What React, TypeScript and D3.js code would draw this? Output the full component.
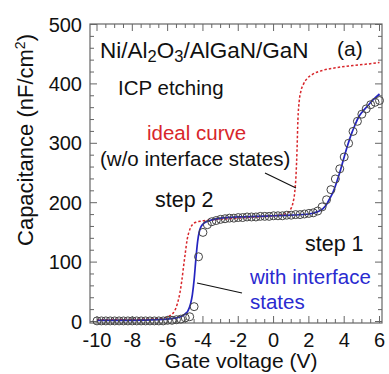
import React from "react";
import * as d3 from "d3";

// Measured C–V points (gate voltage sweep, 0.25 V step from -10 V to 6 V)
const measV: number[] = d3.range(65).map((i) => -10 + i * 0.25);
const measC: number[] = [
  // -10 … -5.25
  1, 1, 1, 1, 1, 1, 1, 1, 1, 1,
  1, 1, 1, 1, 1, 1, 2, 2, 3, 4,
  // -5.0 … -4.0
  6, 8, 25, 109, 150,
  // -3.75 … -0.25
  163, 168, 170, 172, 173, 174, 174, 175, 175, 176, 176, 176, 177, 177, 177,
  // 0 … 2.25
  178, 178, 178, 179, 179, 180, 180, 181, 182, 183,
  // 2.5 … 6.0
  186, 193, 205, 222, 240, 257, 277, 300, 320, 337, 349, 358, 365, 369, 372,
];

// Simulated curve with interface states
const fitV: number[] = [-10, -8, -6.5, -6, -5.5, -5.2, -5.0, -4.85, -4.7, -4.6, -4.5, -4.4, -4.3, -4.2, -4.1, -4.0, -3.8, -3.5, -3, -2, -1, 0, 1, 2, 2.5, 2.8, 3.0, 3.2, 3.4, 3.6, 3.8, 4.0, 4.2, 4.4, 4.6, 4.8, 5.0, 5.3, 5.6, 6.0];
const fitC: number[] = [2, 2, 3, 4, 6, 9, 13, 18, 30, 45, 70, 105, 135, 152, 160, 164, 168, 171, 174, 176, 177, 178, 179, 181, 185, 190, 197, 208, 220, 237, 256, 277, 297, 315, 330, 343, 352, 362, 372, 383];

// Ideal curve without interface states
const idealV: number[] = [-10, -7, -6.5, -6.2, -6, -5.8, -5.6, -5.45, -5.3, -5.2, -5.1, -5.0, -4.9, -4.8, -4.7, -4.6, -4.4, -4.1, -3.5, -2, -1, 0, 0.5, 0.8, 0.95, 1.1, 1.2, 1.27, 1.33, 1.38, 1.45, 1.55, 1.7, 1.9, 2.2, 2.8, 3.5, 4.5, 5.2, 6.0];
const idealC: number[] = [3, 4, 5, 6, 8, 11, 18, 30, 49, 68, 92, 115, 137, 150, 158, 163, 167, 169, 171, 174, 176, 178, 180, 183, 188, 200, 218, 245, 290, 340, 370, 388, 400, 409, 416, 423, 427, 431, 433, 436];

const xTicks: number[] = [-10, -8, -6, -4, -2, 0, 2, 4, 6];
const yTicks: number[] = [0, 100, 200, 300, 400, 500];
const xMinor: number[] = d3.range(-10, 6.01, 0.5);
const yMinor: number[] = d3.range(0, 500.1, 20);

const FONT = "'Liberation Sans', Arial, Helvetica, sans-serif";

export default function App() {
  const W = 389;
  const H = 374;
  const left = 90, right = 382, top = 24, bottom = 323;

  const x = d3.scaleLinear().domain([-10, 6]).range([97, 379.5]);
  const y = d3.scaleLinear().domain([0, 500]).range([321.5, 24.5]);

  const line = (vs: number[], cs: number[]) =>
    d3.line<number>()
      .x((_, i) => x(vs[i]))
      .y((_, i) => y(cs[i]))
      .curve(d3.curveMonotoneX)(vs.map((_, i) => i)) || "";

  const axisColor = "#666";
  const major = 7, minor = 4;

  return (
    <svg width={W} height={H} style={{ position: "absolute", left: 0, top: 0, background: "#fff" }}
      fontFamily={FONT}>
      {/* frame */}
      <rect x={left} y={top} width={right - left} height={bottom - top} fill="none" stroke={axisColor} strokeWidth={1.2} />
      {/* ticks on all four sides, pointing inward */}
      {xMinor.map((v) => {
        const isMajor = Math.abs(v / 2 - Math.round(v / 2)) < 1e-6;
        const l = isMajor ? major : minor;
        return (
          <g key={"xt" + v} stroke={axisColor} strokeWidth={1}>
            <line x1={x(v)} x2={x(v)} y1={bottom} y2={bottom - l} />
            <line x1={x(v)} x2={x(v)} y1={top} y2={top + l} />
          </g>
        );
      })}
      {yMinor.map((c) => {
        const isMajor = c % 100 === 0;
        const l = isMajor ? major : minor;
        return (
          <g key={"yt" + c} stroke={axisColor} strokeWidth={1}>
            <line x1={left} x2={left + l} y1={y(c)} y2={y(c)} />
            <line x1={right} x2={right - l} y1={y(c)} y2={y(c)} />
          </g>
        );
      })}
      {/* tick labels */}
      {xTicks.map((v) => (
        <text key={"xl" + v} x={x(v)} y={347} fontSize={20} textAnchor="middle" fill="#111">
          {v < 0 ? "-" + Math.abs(v) : String(v)}
        </text>
      ))}
      {yTicks.map((c) => (
        <text key={"yl" + c} x={82} y={y(c) + 7} fontSize={20} textAnchor="end" fill="#111">
          {c}
        </text>
      ))}
      {/* axis titles */}
      <text x={241} y={368} fontSize={21} textAnchor="middle" fill="#111">Gate voltage (V)</text>
      <text transform="translate(33,140) rotate(-90)" fontSize={22} textAnchor="middle" fill="#111">
        Capacitance (nF/cm<tspan dy={-8} fontSize={14}>2</tspan><tspan dy={8}>)</tspan>
      </text>

      {/* curves */}
      <path d={line(idealV, idealC)} fill="none" stroke="#d8262b" strokeWidth={1.5} strokeDasharray="2.5,2" />
      <path d={line(fitV, fitC)} fill="none" stroke="#2424c0" strokeWidth={1.7} />
      {measV.map((v, i) => (
        <circle key={"m" + i} cx={x(v)} cy={y(measC[i])} r={4} fill="none" stroke="#444" strokeWidth={1} />
      ))}

      {/* annotations */}
      <text x={100} y={58} fontSize={22.5} fill="#111">
        Ni/Al<tspan dy={4} fontSize={16.5}>2</tspan><tspan dy={-4}>O</tspan><tspan dy={4} fontSize={16.5}>3</tspan><tspan dy={-4}>/AlGaN/GaN</tspan>
      </text>
      <text x={337} y={56} fontSize={21} fill="#111">(a)</text>
      <text x={118} y={95} fontSize={20.5} fill="#111">ICP etching</text>
      <text x={147} y={140} fontSize={20.5} fill="#d8262b">ideal curve</text>
      <text x={100} y={166} fontSize={20.5} fill="#111">(w/o interface states)</text>
      <text x={155} y={207} fontSize={21.5} fill="#111">step 2</text>
      <text x={305} y={251} fontSize={21.5} fill="#111">step 1</text>
      <text x={250} y={284} fontSize={20.5} fill="#2a2ad0">with interface</text>
      <text x={250} y={309} fontSize={20.5} fill="#2a2ad0">states</text>
      <line x1={265} y1={173} x2={296} y2={188} stroke="#111" strokeWidth={1.2} />
      <line x1={197} y1={283} x2={242} y2={293} stroke="#111" strokeWidth={1.2} />
    </svg>
  );
}
